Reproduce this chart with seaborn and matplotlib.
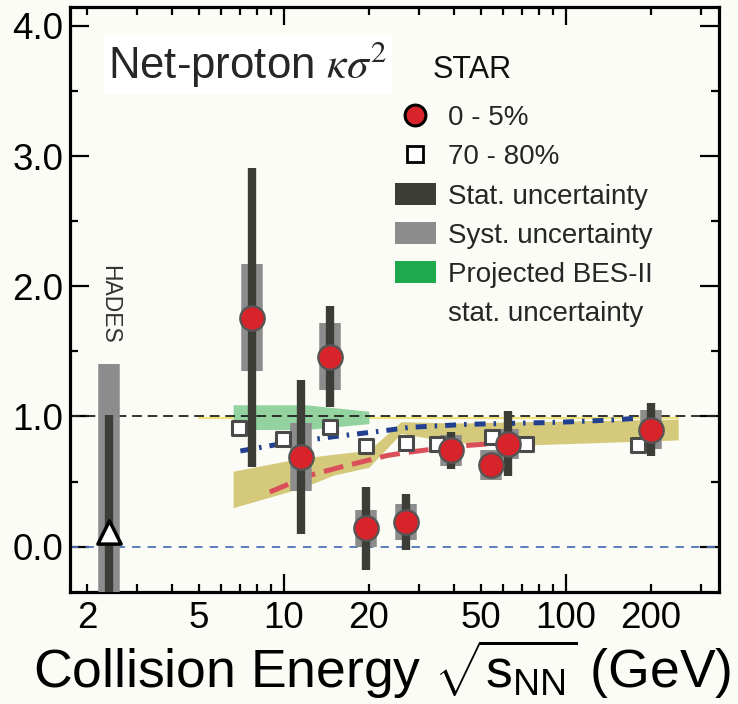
import numpy as np
import pandas as pd
import matplotlib
matplotlib.use("Agg")
import matplotlib.pyplot as plt
import seaborn as sns
from matplotlib.lines import Line2D
from matplotlib.patches import Patch
from matplotlib.ticker import FixedLocator, FixedFormatter, FuncFormatter

# ---------------- data ----------------
central_energy = [7.7, 11.5, 14.5, 19.6, 27, 39, 54.4, 62.4, 200]
central_kappa = [1.76, 0.69, 1.46, 0.14, 0.19, 0.74, 0.63, 0.79, 0.90]
central_stat = [1.15, 0.59, 0.39, 0.32, 0.215, 0.14, 0.08, 0.25, 0.205]
central_syst = [0.41, 0.26, 0.255, 0.14, 0.135, 0.12, 0.115, 0.115, 0.147]

peripheral_energy = [6.9, 9.9, 14.5, 19.6, 27, 35, 54.5, 72, 180]
peripheral_kappa = [0.91, 0.83, 0.92, 0.775, 0.80, 0.785, 0.84, 0.79, 0.78]

hades_energy = [2.4]
hades_kappa = [0.11]
hades_stat = [0.90]
hades_syst = [1.29]

bes2_energy = [6.6, 12.0, 20.0]
bes2_upper = [1.09, 1.09, 1.04]
bes2_lower = [0.90, 0.90, 0.945]

model_band_energy = [6.6, 11.5, 15, 20, 26, 40, 70, 250]
model_band_upper = [0.58, 0.68, 0.71, 0.74, 0.96, 0.95, 0.96, 0.98]
model_band_lower = [0.30, 0.45, 0.55, 0.61, 0.87, 0.80, 0.78, 0.82]

yellow_line_energy = [5.0, 250]
yellow_line_kappa = [0.985, 0.985]

blue_energy = [7.0, 10, 15, 22.5, 28, 45, 93, 146, 175]
blue_kappa = [0.735, 0.794, 0.845, 0.89, 0.917, 0.94, 0.955, 0.973, 0.985]

red_energy = [8.9, 12.4, 15.8, 23.2, 26.5, 40, 62]
red_kappa = [0.42, 0.55, 0.61, 0.70, 0.72, 0.77, 0.80]

ref_levels = [1.0, 0.0]

x_major_ticks = [10, 100]
x_major_labels = ["10", "100"]
x_minor_ticks = [2, 3, 4, 5, 6, 7, 8, 9, 20, 30, 40, 50, 60, 70, 80, 90, 200, 300]
x_minor_labeled = {2: "2", 5: "5", 20: "20", 50: "50", 200: "200"}
y_major_ticks = [0, 1, 2, 3, 4]
y_major_labels = ["0.0", "1.0", "2.0", "3.0", "4.0"]
y_minor_ticks = [0.5, 1.5, 2.5, 3.5]

# ---------------- style ----------------
sns.set_theme(style="ticks")
plt.rcParams["font.family"] = ["Liberation Sans", "DejaVu Sans"]
plt.rcParams["mathtext.fontset"] = "custom"
plt.rcParams["mathtext.rm"] = "Liberation Sans"
plt.rcParams["mathtext.it"] = "Liberation Sans:italic"
plt.rcParams["mathtext.sf"] = "Liberation Sans"

bg = "#fcfcf6"
red = "#d8232a"
stat_col = "#3d3d38"
syst_col = "#8c8c8c"
green_band = "#93d3a0"
green_leg = "#1fa84c"
khaki = "#d5ca7c"
blue = "#22408f"
redline = "#db4f5a"

fig = plt.figure(figsize=(7.38, 7.04), dpi=100, facecolor=bg)
ax = fig.add_axes([0.0949, 0.1587, 0.8794, 0.8318], facecolor=bg)
ax.set_xscale("log")
ax.set_xlim(1.742, 349)
ax.set_ylim(-0.35, 4.147)

# bands
ax.fill_between(model_band_energy, model_band_lower, model_band_upper,
                color=khaki, lw=0, zorder=1)
ax.fill_between(bes2_energy, bes2_lower, bes2_upper,
                color=green_band, lw=0, zorder=1.5)
sns.lineplot(x=yellow_line_energy, y=yellow_line_kappa, ax=ax, color="#efe37c",
             lw=1.6, zorder=1.2, estimator=None, sort=False)

# reference lines
ax.axhline(ref_levels[0], color="#222222", lw=1.3, linestyle=(0, (5.4, 3.2)), zorder=2)
ax.axhline(ref_levels[1], color="#4f72b8", lw=1.3, linestyle=(0, (4.6, 4.0)), zorder=2)

# model curves
sns.lineplot(x=blue_energy, y=blue_kappa, ax=ax, color=blue, lw=3.6,
             linestyle=(0, (2.2, 1.6, 0.5, 1.6)), zorder=3, estimator=None, sort=False)
sns.lineplot(x=red_energy, y=red_kappa, ax=ax, color=redline, lw=3.6,
             linestyle=(0, (4.0, 1.8)), zorder=3, estimator=None, sort=False)

# uncertainties
ce = np.array(central_energy)
ck = np.array(central_kappa)
cs = np.array(central_stat)
cy = np.array(central_syst)
ax.vlines(ce, ck - cy, ck + cy, color=syst_col, lw=15.5, zorder=4)
ax.vlines(ce, ck - cs, ck + cs, color=stat_col, lw=6.0, zorder=5)

he = np.array(hades_energy)
hk = np.array(hades_kappa)
ax.vlines(he, hk - np.array(hades_syst), hk + np.array(hades_syst),
          color=syst_col, lw=15.5, zorder=4)
ax.vlines(he, hk - np.array(hades_stat), hk + np.array(hades_stat),
          color=stat_col, lw=6.0, zorder=5)

# points
sns.scatterplot(x=peripheral_energy, y=peripheral_kappa, ax=ax, marker="s", s=115,
                facecolor="white", edgecolor="#4a4a4a", linewidth=2.2, zorder=4.5,
                legend=False)
sns.scatterplot(x=central_energy, y=central_kappa, ax=ax, marker="o", s=310,
                color=red, edgecolor="#555555", linewidth=1.6, zorder=6, legend=False)
sns.scatterplot(x=hades_energy, y=hades_kappa, ax=ax, marker="^", s=280,
                color="white", edgecolor="black", linewidth=2.5, zorder=6, legend=False)

# texts
ax.text(hades_energy[0], 1.86, "HADES", rotation=270, ha="center", va="center",
        fontsize=16.5, color="#333333", zorder=7)
ax.text(0.0586, 0.878, r"Net-proton $\kappa\sigma^2$", transform=ax.transAxes,
        fontsize=31.5, math_fontfamily="stix", ha="left", va="baseline", zorder=8,
        bbox=dict(boxstyle="square,pad=0.1", facecolor="white", edgecolor="none"))
ax.text(0.558, 0.878, "STAR", transform=ax.transAxes, fontsize=22,
        ha="left", va="baseline", color="#111111", zorder=8)

# legend
handles = [
    Line2D([], [], marker="o", ls="none", ms=15, mfc=red, mec="black", mew=2.2),
    Line2D([], [], marker="s", ls="none", ms=11.5, mfc="white", mec="black", mew=2.0),
    Patch(facecolor=stat_col, edgecolor="none"),
    Patch(facecolor=syst_col, edgecolor="none"),
    Patch(facecolor=green_leg, edgecolor="none"),
    Patch(facecolor="none", edgecolor="none"),
]
labels = ["0 - 5%", "70 - 80%", "Stat. uncertainty", "Syst. uncertainty",
          "Projected BES-II", "stat. uncertainty"]
ax.legend(handles, labels, loc="upper left", bbox_to_anchor=(0.50, 0.833),
          frameon=False, fontsize=20, borderpad=0, borderaxespad=0,
          handlelength=1.5, handleheight=0.85, handletextpad=0.42, labelspacing=0.45)

# axes and ticks
ax.xaxis.set_major_locator(FixedLocator(x_major_ticks))
ax.xaxis.set_major_formatter(FixedFormatter(x_major_labels))
ax.xaxis.set_minor_locator(FixedLocator(x_minor_ticks))
ax.xaxis.set_minor_formatter(FuncFormatter(lambda v, p: x_minor_labeled.get(int(round(v)), "")))
ax.yaxis.set_major_locator(FixedLocator(y_major_ticks))
ax.yaxis.set_major_formatter(FixedFormatter(y_major_labels))
ax.yaxis.set_minor_locator(FixedLocator(y_minor_ticks))

ax.tick_params(which="both", direction="in", top=True, right=True,
               width=1.6, color="black", labelsize=26.5, labelcolor="black")
ax.tick_params(axis="x", which="major", length=13, pad=6)
ax.tick_params(axis="x", which="minor", length=6, pad=6)
ax.tick_params(axis="y", which="major", length=14, pad=5)
ax.tick_params(axis="y", which="minor", length=6, pad=5)
for s in ax.spines.values():
    s.set_linewidth(2.3)
    s.set_color("black")
    s.set_visible(True)

ax.set_ylabel("")
ax.set_xlabel(r"Collision Energy $\sqrt{\mathrm{s}_{\mathrm{NN}}}$ (GeV)", fontsize=38.5,
              color="black")
ax.xaxis.set_label_coords(0.481, -0.076)

fig.savefig("out.png", dpi=100, facecolor=bg)
